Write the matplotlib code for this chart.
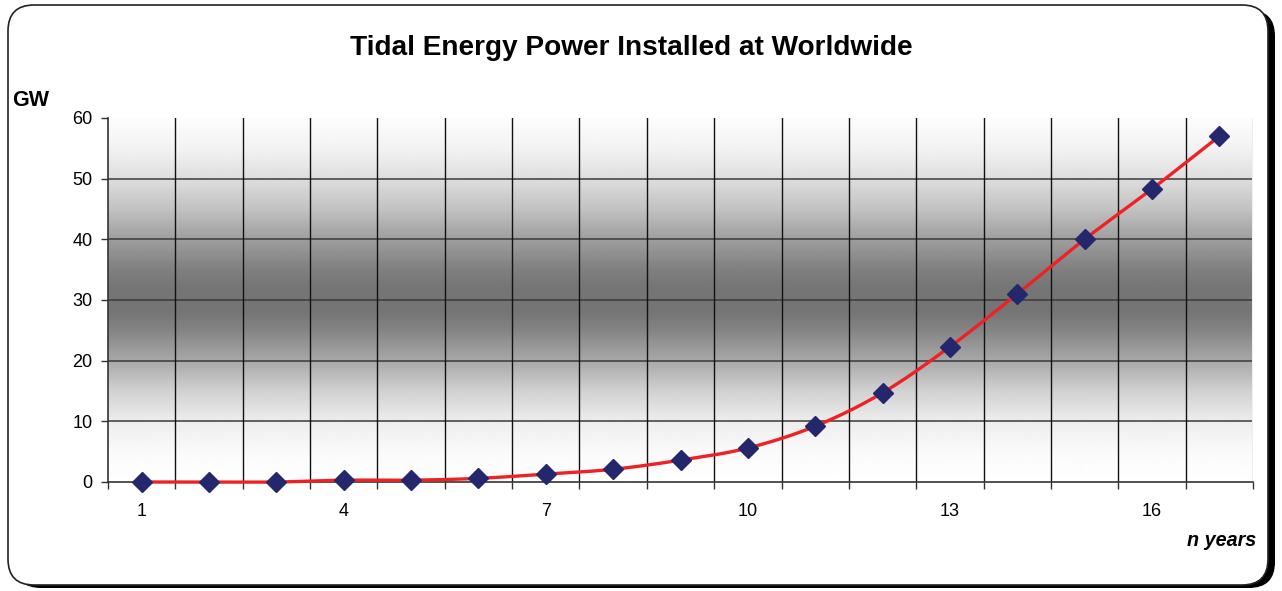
import numpy as np
import matplotlib
matplotlib.use("Agg")
import matplotlib.pyplot as plt
from matplotlib.patches import FancyBboxPatch

plt.rcParams['font.family'] = ['Liberation Sans', 'DejaVu Sans']

# ---- data ----
years = list(range(1, 18))
gw = [0, 0, 0, 0.3, 0.3, 0.6, 1.3, 2.1, 3.6, 5.6, 9.2, 14.7, 22.3, 31.0, 40.0, 48.3, 57.0]
xtick_labels = ["1", "4", "7", "10", "13", "16"]
xtick_pos = [1, 4, 7, 10, 13, 16]
yticks = [0, 10, 20, 30, 40, 50, 60]
title = "Tidal Energy Power Installed at Worldwide"
ylabel = "GW"
xlabel = "n years"

W, H = 1282, 591
fig = plt.figure(figsize=(W / 100, H / 100), dpi=100)

# ---- frame (rounded box with shadow) ----
bg = fig.add_axes([0, 0, 1, 1], zorder=0)
bg.set_xlim(0, W)
bg.set_ylim(H, 0)
bg.axis('off')
r = 26
shadow = FancyBboxPatch((8 + 7, 5 + 5), 1260, 578,
                        boxstyle=f"round,pad=0,rounding_size={r}",
                        fc='black', ec='black', lw=0)
bg.add_patch(shadow)
box = FancyBboxPatch((8, 5), 1260, 580,
                     boxstyle=f"round,pad=0,rounding_size={r}",
                     fc='white', ec='#222222', lw=1.2)
bg.add_patch(box)

# ---- main axes ----
left, right, top, bottom = 108, 1253, 118, 482
ax = fig.add_axes([left / W, (H - bottom) / H, (right - left) / W, (bottom - top) / H], zorder=1)
ax.set_xlim(0.5, 17.5)
ax.set_ylim(0, 60)

# gradient background
gy = np.array([0, 5, 10, 15, 20, 25, 28, 32, 35, 40, 45, 50, 55, 60])
gv = np.array([1.0, 0.98, 0.93, 0.82, 0.66, 0.52, 0.46, 0.46, 0.5, 0.62, 0.76, 0.87, 0.95, 0.99])
yy = np.linspace(0, 60, 400)
vals = np.interp(yy, gy, gv)
ax.imshow(vals[:, None], extent=[0.5, 17.5, 0, 60], origin='lower', aspect='auto',
          cmap='gray', vmin=0, vmax=1, zorder=0, interpolation='bilinear')

# grid
for yv in yticks[1:-1]:
    ax.axhline(yv, color='#3a3a3a', lw=1.1, zorder=1)
for k in range(1, 17):
    ax.axvline(0.5 + k, color='#111111', lw=1.0, zorder=1)
ax.axvline(17.5, color='#eeeeee', lw=1.5, zorder=1)

# smoothed line (Catmull-Rom through the data points)
x = np.array(years, dtype=float)
y = np.array(gw, dtype=float)
px = np.concatenate([[2 * x[0] - x[1]], x, [2 * x[-1] - x[-2]]])
py = np.concatenate([[2 * y[0] - y[1]], y, [2 * y[-1] - y[-2]]])
sx, sy = [], []
t = np.linspace(0, 1, 20)
for i in range(1, len(px) - 2):
    p0, p1, p2, p3 = px[i - 1], px[i], px[i + 1], px[i + 2]
    q0, q1, q2, q3 = py[i - 1], py[i], py[i + 1], py[i + 2]
    fx = 0.5 * (2 * p1 + (-p0 + p2) * t + (2 * p0 - 5 * p1 + 4 * p2 - p3) * t ** 2 + (-p0 + 3 * p1 - 3 * p2 + p3) * t ** 3)
    fy = 0.5 * (2 * q1 + (-q0 + q2) * t + (2 * q0 - 5 * q1 + 4 * q2 - q3) * t ** 2 + (-q0 + 3 * q1 - 3 * q2 + q3) * t ** 3)
    sx.extend(fx)
    sy.extend(fy)
ax.plot(sx, sy, color='#ee2224', lw=2.4, zorder=3, solid_capstyle='round', clip_on=False)
ax.plot(x, y, linestyle='none', marker='D', markersize=10.5, color='#25276d',
        markeredgecolor='#25276d', zorder=4, clip_on=False)

# spines
for s in ['top', 'right']:
    ax.spines[s].set_visible(False)
for s in ['left', 'bottom']:
    ax.spines[s].set_color('#333333')
    ax.spines[s].set_linewidth(1.2)
    ax.spines[s].set_zorder(2)

# ticks
ax.set_yticks(yticks)
ax.set_yticklabels([str(v) for v in yticks], fontsize=13)
ax.tick_params(axis='y', direction='out', length=5, width=1, color='#333333', pad=6)
ax.set_xticks(xtick_pos)
ax.set_xticklabels(xtick_labels, fontsize=13)
ax.set_xticks([0.5 + k for k in range(18)], minor=True)
ax.tick_params(axis='x', which='major', length=0, pad=15)
ax.tick_params(axis='x', which='minor', direction='out', length=5, width=1, color='#333333')

# texts
fig.text(631 / W, 1 - 48 / H, title, ha='center', va='center', fontsize=20.2, fontweight='bold')
fig.text(12 / W, 1 - 100 / H, ylabel, ha='left', va='center', fontsize=15.5, fontweight='bold')
fig.text(1256 / W, 1 - 540 / H, xlabel, ha='right', va='center', fontsize=14.2,
         fontweight='bold', fontstyle='italic')

fig.savefig('out.png', dpi=100)
